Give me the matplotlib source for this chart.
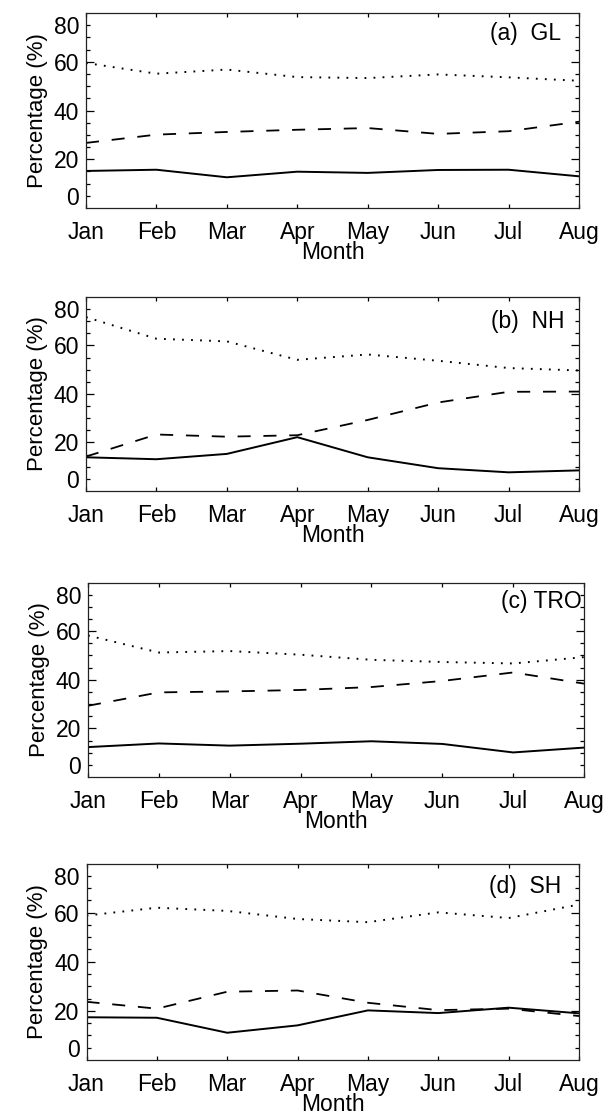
import numpy as np
import matplotlib.pyplot as plt

plt.rcParams['font.family'] = ['Liberation Sans', 'DejaVu Sans']
plt.rcParams['lines.scale_dashes'] = False

months = ['Jan', 'Feb', 'Mar', 'Apr', 'May', 'Jun', 'Jul', 'Aug']
panel_names = ['(a)  GL', '(b)  NH', '(c) TRO', '(d)  SH']

# three curves per region: solid, dashed, dotted (percentage)
gl_solid = [15.2, 15.7, 12.6, 14.9, 14.4, 15.6, 15.7, 13.0]
gl_dash = [26.7, 30.1, 31.2, 32.1, 32.8, 30.4, 31.5, 35.4]
gl_dot = [59.5, 55.1, 56.8, 53.7, 53.3, 54.8, 53.6, 52.2]

nh_solid = [13.9, 13.1, 15.3, 22.2, 13.9, 9.4, 7.7, 8.5]
nh_dash = [14.2, 23.3, 22.4, 23.0, 29.3, 36.5, 40.9, 41.0]
nh_dot = [71.7, 62.8, 61.7, 54.1, 56.3, 53.7, 50.7, 49.7]

tro_solid = [12.3, 13.8, 12.9, 13.7, 14.7, 13.6, 10.1, 12.1]
tro_dash = [29.3, 34.8, 35.2, 35.8, 37.0, 39.5, 43.0, 38.4]
tro_dot = [58.2, 51.2, 51.8, 50.3, 48.2, 47.3, 46.7, 49.3]

sh_solid = [17.4, 17.2, 11.1, 14.1, 20.2, 19.1, 21.3, 19.0]
sh_dash = [23.7, 20.9, 27.8, 28.3, 23.3, 20.3, 20.9, 17.9]
sh_dot = [58.8, 62.0, 60.7, 57.4, 56.1, 60.1, 57.8, 63.3]

solids = [gl_solid, nh_solid, tro_solid, sh_solid]
dashes = [gl_dash, nh_dash, tro_dash, sh_dash]
dots = [gl_dot, nh_dot, tro_dot, sh_dot]

# axes boxes in pixels: left, right, top, bottom
W, H = 608, 1117
boxes = [(86, 579, 13, 208), (86, 579, 297, 491),
         (88, 584, 582.5, 777), (86.5, 579, 863.5, 1060)]
label_pos = [(0.963, 0.897), (0.97, 0.875), (0.996, 0.90), (0.964, 0.882)]

fig = plt.figure(figsize=(W / 100, H / 100), dpi=100)
x = np.arange(len(months))

for i in range(4):
    l, r, t, b = boxes[i]
    ax = fig.add_axes([l / W, 1 - b / H, (r - l) / W, (b - t) / H])
    ax.plot(x, solids[i], color='black', lw=1.4, ls='-')
    ax.plot(x, dashes[i], color='black', lw=1.3, dashes=(9.4, 9.2))
    ax.plot(x, dots[i], color='black', lw=1.4, dashes=(1.3, 5.2),
            dash_capstyle='butt')
    ax.set_xlim(0, 7)
    ax.set_ylim(0, 80)
    ax.set_xticks(x)
    ax.set_xticklabels(months)
    ax.set_yticks([20, 40, 60])
    ax.set_yticklabels(['20', '40', '60'])
    minor = [5, 10, 15, 25, 30, 35, 45, 50, 55, 65, 70, 75]
    ax.set_yticks(minor, minor=True)
    ax.set_yticklabels(['0' if m == 5 else '80' if m == 75 else '' for m in minor],
                       minor=True)
    ax.tick_params(axis='both', which='both', direction='in', top=True,
                   right=True, labelsize=16.5, width=0.9)
    ax.tick_params(axis='y', which='major', length=6, pad=5)
    ax.tick_params(axis='y', which='minor', length=3, pad=5)
    ax.tick_params(axis='x', which='major', length=3, pad=9.5)
    for s in ax.spines.values():
        s.set_linewidth(0.9)
        s.set_color('#222222')
    ax.set_xlabel('Month', fontsize=16.5, labelpad=-2.5)
    ax.set_ylabel('Percentage (%)', fontsize=16, labelpad=4)
    ax.text(label_pos[i][0], label_pos[i][1], panel_names[i], transform=ax.transAxes,
            ha='right', va='center', fontsize=16.5)

fig.savefig('out.png', dpi=100)
